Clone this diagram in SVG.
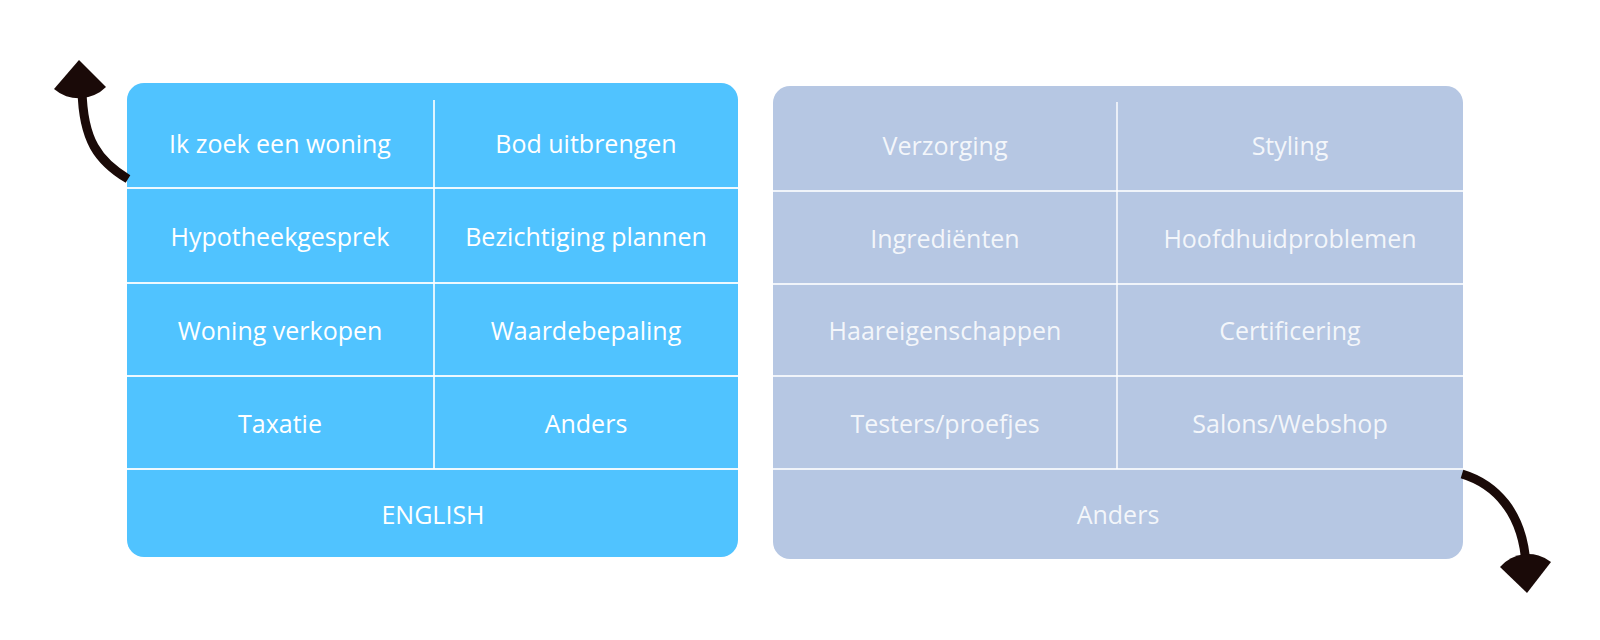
<svg xmlns="http://www.w3.org/2000/svg" width="1600" height="640" viewBox="0 0 1600 640">
  <style>
    .lbl { font-family: "Open Sans", "Noto Sans", sans-serif; font-size: 25px; text-anchor: middle; dominant-baseline: central; }
    .l1 { fill: #ffffff; }
    .l2 { fill: #ffffff; fill-opacity: 0.85; }
    .grid { stroke: #ffffff; stroke-opacity: 0.9; stroke-width: 1.8; fill: none; }
    .grid2 { stroke: #ffffff; stroke-opacity: 0.8; stroke-width: 1.8; fill: none; }
    .conn { stroke: #1a0a08; stroke-width: 9; fill: none; }
    .head { fill: #1a0a08; }
  </style>
  <rect width="1600" height="640" fill="#ffffff"/>

  <g id="panel-left">
    <rect x="127" y="83" width="611" height="474" rx="17" fill="#50C3FF"/>
    <line class="grid" x1="434" y1="100" x2="434" y2="469"/>
    <line class="grid" x1="127" y1="188" x2="738" y2="188"/>
    <line class="grid" x1="127" y1="283" x2="738" y2="283"/>
    <line class="grid" x1="127" y1="376" x2="738" y2="376"/>
    <line class="grid" x1="127" y1="469" x2="738" y2="469"/>
  </g>
  <g id="node-ik-zoek"><text class="lbl l1" x="280" y="143">Ik zoek een woning</text></g>
  <g id="node-bod"><text class="lbl l1" x="586" y="143">Bod uitbrengen</text></g>
  <g id="node-hypotheek"><text class="lbl l1" x="280" y="236">Hypotheekgesprek</text></g>
  <g id="node-bezichtiging"><text class="lbl l1" x="586" y="236">Bezichtiging plannen</text></g>
  <g id="node-woning-verkopen"><text class="lbl l1" x="280" y="330">Woning verkopen</text></g>
  <g id="node-waardebepaling"><text class="lbl l1" x="586" y="330">Waardebepaling</text></g>
  <g id="node-taxatie"><text class="lbl l1" x="280" y="423">Taxatie</text></g>
  <g id="node-anders-left"><text class="lbl l1" x="586" y="423">Anders</text></g>
  <g id="node-english"><text class="lbl l1" x="433" y="514">ENGLISH</text></g>

  <g id="panel-right">
    <rect x="773" y="86" width="690" height="473" rx="17" fill="#B6C7E3"/>
    <line class="grid2" x1="1117" y1="102" x2="1117" y2="469"/>
    <line class="grid2" x1="773" y1="191" x2="1463" y2="191"/>
    <line class="grid2" x1="773" y1="284" x2="1463" y2="284"/>
    <line class="grid2" x1="773" y1="376" x2="1463" y2="376"/>
    <line class="grid2" x1="773" y1="469" x2="1463" y2="469"/>
  </g>
  <g id="node-verzorging"><text class="lbl l2" x="945" y="145">Verzorging</text></g>
  <g id="node-styling"><text class="lbl l2" x="1290" y="145">Styling</text></g>
  <g id="node-ingredienten"><text class="lbl l2" x="945" y="238">Ingrediënten</text></g>
  <g id="node-hoofdhuid"><text class="lbl l2" x="1290" y="238">Hoofdhuidproblemen</text></g>
  <g id="node-haareigenschappen"><text class="lbl l2" x="945" y="330">Haareigenschappen</text></g>
  <g id="node-certificering"><text class="lbl l2" x="1290" y="330">Certificering</text></g>
  <g id="node-testers"><text class="lbl l2" x="945" y="423">Testers/proefjes</text></g>
  <g id="node-salons"><text class="lbl l2" x="1290" y="423">Salons/Webshop</text></g>
  <g id="node-anders-right"><text class="lbl l2" x="1118" y="514">Anders</text></g>

  <g id="connectors">
    <path class="conn" d="M128,179 C98,161 83,140 82,90"/>
    <path class="head" d="M79,60 L54,89 A38,38 0 0 0 106,87 Z"/>
    <path class="conn" d="M1462,474 C1495,484 1523,512 1526,565"/>
    <path class="head" d="M1527,593 L1500,567 A37,37 0 0 1 1551,562 Z"/>
  </g>
</svg>
